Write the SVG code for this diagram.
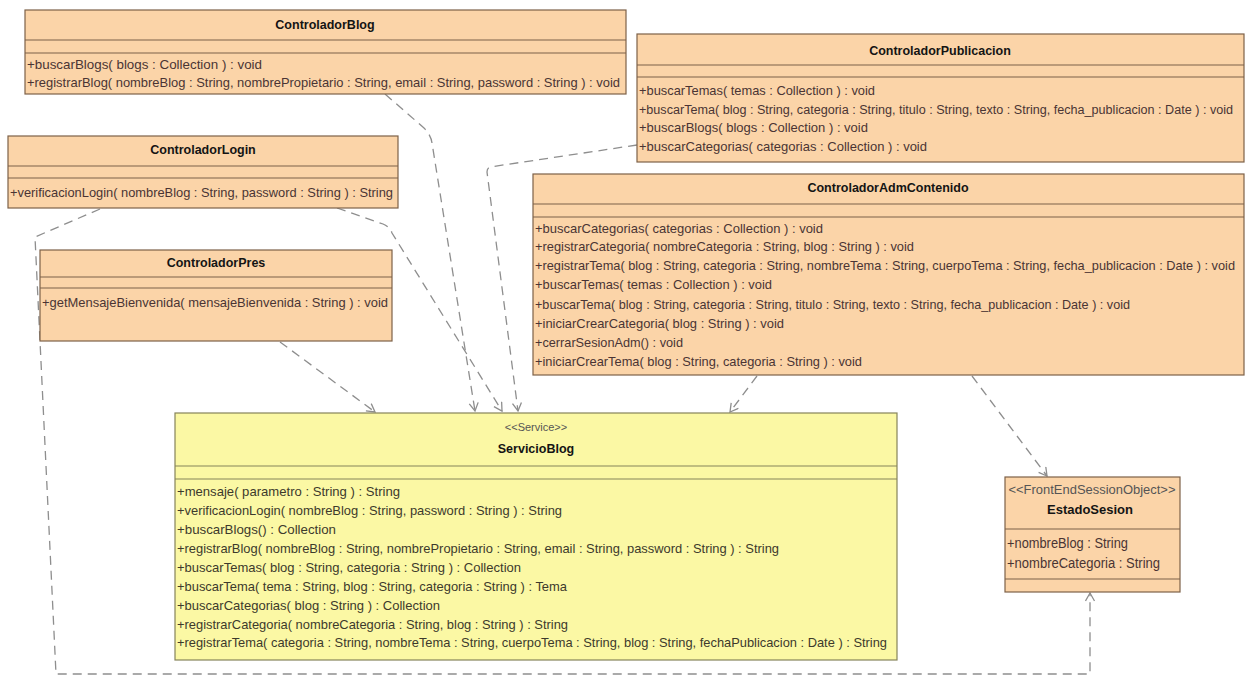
<svg xmlns="http://www.w3.org/2000/svg" width="1247" height="679" viewBox="0 0 1247 679">
<style>
.box{fill:#fbd4a8;stroke:#7d6148;stroke-width:1.2}
.svc{fill:#fbf8a4;stroke:#86845a;stroke-width:1.2}
.sep{stroke:#7d6148;stroke-width:1.2}
.sep2{stroke:#86845a;stroke-width:1.2}
.title{font-family:"Liberation Sans",Arial,sans-serif;font-size:12.5px;font-weight:bold;fill:#141414;text-anchor:middle}
.ster{font-family:"Liberation Sans",Arial,sans-serif;font-size:11px;fill:#555;text-anchor:middle}
.m{font-family:"Liberation Sans",Arial,sans-serif;font-size:13px;fill:#4a3434}
.ms{font-family:"Liberation Sans",Arial,sans-serif;font-size:13px;fill:#3d3a2c}
.dep{fill:none;stroke:#8e8e8e;stroke-width:1.3;stroke-dasharray:9 6}
</style>
<defs>
<marker id="open" markerUnits="userSpaceOnUse" markerWidth="12" markerHeight="12" refX="9" refY="5" orient="auto">
<path d="M1,0.5 L9,5 L1,9.5" fill="none" stroke="#8e8e8e" stroke-width="1.3"/>
</marker>
</defs>
<rect width="1247" height="679" fill="#ffffff"/>
<g id="connectors">
<path class="dep" d="M385 94 L424 128 Q431 135 432 143 L475 411" marker-end="url(#open)"/>
<path class="dep" d="M637 145 L490 167 Q487 168 487 172 L518 411" marker-end="url(#open)"/>
<path class="dep" d="M337 208 L383 224 Q390 227 392 233 L502 411" marker-end="url(#open)"/>
<path class="dep" d="M100 209 L35 237 L56 674 L1090 674 L1090 593" marker-end="url(#open)"/>
<path class="dep" d="M280 342 L375 412" marker-end="url(#open)"/>
<path class="dep" d="M757 376 L730 412" marker-end="url(#open)"/>
<path class="dep" d="M972 376 L1047 476" marker-end="url(#open)"/>
</g>
<g id="ControladorBlog">
<rect class="box" x="25" y="10" width="601" height="84"/>
<line class="sep" x1="25" y1="40" x2="626" y2="40"/>
<line class="sep" x1="25" y1="53" x2="626" y2="53"/>
<text class="title" x="325" y="29">ControladorBlog</text>
<text class="m" x="27" y="69" textLength="235" lengthAdjust="spacingAndGlyphs">+buscarBlogs( blogs : Collection ) : void</text>
<text class="m" x="27" y="87" textLength="593" lengthAdjust="spacingAndGlyphs">+registrarBlog( nombreBlog : String, nombrePropietario : String, email : String, password : String ) : void</text>
</g>
<g id="ControladorPublicacion">
<rect class="box" x="637" y="34" width="607" height="128"/>
<line class="sep" x1="637" y1="65" x2="1244" y2="65"/>
<line class="sep" x1="637" y1="77" x2="1244" y2="77"/>
<text class="title" x="940" y="55">ControladorPublicacion</text>
<text class="m" x="639" y="95" textLength="236" lengthAdjust="spacingAndGlyphs">+buscarTemas( temas : Collection ) : void</text>
<text class="m" x="639" y="114" style="font-size:12px" textLength="594" lengthAdjust="spacingAndGlyphs">+buscarTema( blog : String, categoria : String, titulo : String, texto : String, fecha_publicacion : Date ) : void</text>
<text class="m" x="639" y="132" textLength="229" lengthAdjust="spacingAndGlyphs">+buscarBlogs( blogs : Collection ) : void</text>
<text class="m" x="639" y="151" textLength="288" lengthAdjust="spacingAndGlyphs">+buscarCategorias( categorias : Collection ) : void</text>
</g>
<g id="ControladorLogin">
<rect class="box" x="8" y="136" width="390" height="72"/>
<line class="sep" x1="8" y1="166" x2="398" y2="166"/>
<line class="sep" x1="8" y1="178" x2="398" y2="178"/>
<text class="title" x="203" y="154">ControladorLogin</text>
<text class="m" x="10" y="197" textLength="383" lengthAdjust="spacingAndGlyphs">+verificacionLogin( nombreBlog : String, password : String ) : String</text>
</g>
<g id="ControladorPres">
<rect class="box" x="40" y="250" width="352" height="91"/>
<line class="sep" x1="40" y1="277" x2="392" y2="277"/>
<line class="sep" x1="40" y1="288" x2="392" y2="288"/>
<text class="title" x="216" y="267">ControladorPres</text>
<text class="m" x="42" y="307" textLength="346" lengthAdjust="spacingAndGlyphs">+getMensajeBienvenida( mensajeBienvenida : String ) : void</text>
</g>
<g id="ControladorAdmContenido">
<rect class="box" x="533" y="174" width="711" height="201"/>
<line class="sep" x1="533" y1="204" x2="1244" y2="204"/>
<line class="sep" x1="533" y1="217" x2="1244" y2="217"/>
<text class="title" x="888" y="192">ControladorAdmContenido</text>
<text class="m" x="535" y="233" textLength="288" lengthAdjust="spacingAndGlyphs">+buscarCategorias( categorias : Collection ) : void</text>
<text class="m" x="535" y="251" textLength="379" lengthAdjust="spacingAndGlyphs">+registrarCategoria( nombreCategoria : String, blog : String ) : void</text>
<text class="m" x="535" y="270" textLength="700" lengthAdjust="spacingAndGlyphs">+registrarTema( blog : String, categoria : String, nombreTema : String, cuerpoTema : String, fecha_publicacion : Date ) : void</text>
<text class="m" x="535" y="289" textLength="237" lengthAdjust="spacingAndGlyphs">+buscarTemas( temas : Collection ) : void</text>
<text class="m" x="535" y="309" textLength="595" lengthAdjust="spacingAndGlyphs">+buscarTema( blog : String, categoria : String, titulo : String, texto : String, fecha_publicacion : Date ) : void</text>
<text class="m" x="535" y="328" textLength="249" lengthAdjust="spacingAndGlyphs">+iniciarCrearCategoria( blog : String ) : void</text>
<text class="m" x="535" y="347" textLength="148" lengthAdjust="spacingAndGlyphs">+cerrarSesionAdm() : void</text>
<text class="m" x="535" y="366" textLength="327" lengthAdjust="spacingAndGlyphs">+iniciarCrearTema( blog : String, categoria : String ) : void</text>
</g>
<g id="ServicioBlog">
<rect class="svc" x="175" y="413" width="722" height="247"/>
<line class="sep2" x1="175" y1="466" x2="897" y2="466"/>
<line class="sep2" x1="175" y1="479" x2="897" y2="479"/>
<text class="ster" x="536" y="431">&lt;&lt;Service&gt;&gt;</text>
<text class="title" x="536" y="453">ServicioBlog</text>
<text class="ms" x="177" y="496" textLength="223" lengthAdjust="spacingAndGlyphs">+mensaje( parametro : String ) : String</text>
<text class="ms" x="177" y="515" textLength="385" lengthAdjust="spacingAndGlyphs">+verificacionLogin( nombreBlog : String, password : String ) : String</text>
<text class="ms" x="177" y="534" textLength="159" lengthAdjust="spacingAndGlyphs">+buscarBlogs() : Collection</text>
<text class="ms" x="177" y="553" textLength="602" lengthAdjust="spacingAndGlyphs">+registrarBlog( nombreBlog : String, nombrePropietario : String, email : String, password : String ) : String</text>
<text class="ms" x="177" y="572" textLength="344" lengthAdjust="spacingAndGlyphs">+buscarTemas( blog : String, categoria : String ) : Collection</text>
<text class="ms" x="177" y="591" textLength="390" lengthAdjust="spacingAndGlyphs">+buscarTema( tema : String, blog : String, categoria : String ) : Tema</text>
<text class="ms" x="177" y="610" textLength="263" lengthAdjust="spacingAndGlyphs">+buscarCategorias( blog : String ) : Collection</text>
<text class="ms" x="177" y="629" textLength="391" lengthAdjust="spacingAndGlyphs">+registrarCategoria( nombreCategoria : String, blog : String ) : String</text>
<text class="ms" x="177" y="647" textLength="710" lengthAdjust="spacingAndGlyphs">+registrarTema( categoria : String, nombreTema : String, cuerpoTema : String, blog : String, fechaPublicacion : Date ) : String</text>
</g>
<g id="EstadoSesion">
<rect class="box" x="1005" y="477" width="175" height="115"/>
<line class="sep" x1="1005" y1="529" x2="1180" y2="529"/>
<line class="sep" x1="1005" y1="579" x2="1180" y2="579"/>
<text class="ster" x="1092" y="494" style="font-size:12px" textLength="167" lengthAdjust="spacingAndGlyphs">&lt;&lt;FrontEndSessionObject&gt;&gt;</text>
<text class="title" x="1090" y="514" style="font-size:13px">EstadoSesion</text>
<text class="m" x="1007" y="548" style="font-size:14px" textLength="121" lengthAdjust="spacingAndGlyphs">+nombreBlog : String</text>
<text class="m" x="1007" y="568" style="font-size:14px" textLength="153" lengthAdjust="spacingAndGlyphs">+nombreCategoria : String</text>
</g>
</svg>
